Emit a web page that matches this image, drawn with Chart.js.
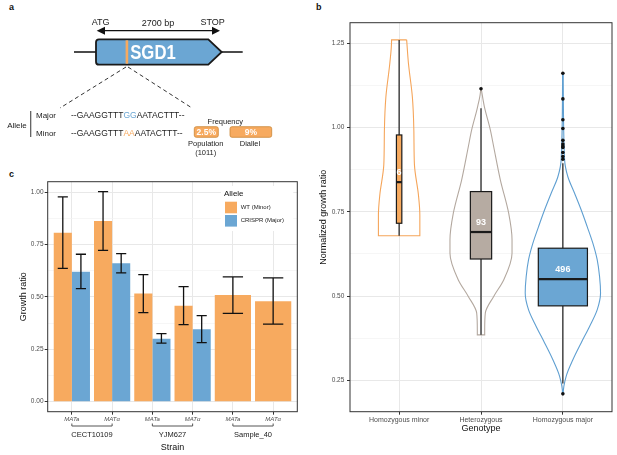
<!DOCTYPE html>
<html>
<head>
<meta charset="utf-8">
<script src="https://cdn.jsdelivr.net/npm/chart.js"></script>
<style>
  body { margin: 0; background: #fff; width: 617px; height: 455px; overflow: hidden; position: relative; font-family: 'Liberation Sans', Arial, sans-serif; }
  canvas { position: absolute; }
  .tag { position: absolute; font-weight: bold; font-size: 9px; line-height: 10px; color: #111; }
</style>
</head>
<body>
<div class="tag" style="left:9px;top:2px">a</div>
<div class="tag" style="left:316px;top:2px">b</div>
<div class="tag" style="left:9px;top:169px">c</div>
<canvas id="geneMap" width="305" height="165" style="left:0;top:0"></canvas>
<canvas id="growthBars" width="305" height="290" style="left:0;top:165px"></canvas>
<canvas id="genoViolin" width="307" height="455" style="left:310px;top:0"></canvas>
<script>
// ---- panel a: gene + alleles
var geneName = 'SGD1';
var geneLength = '2700 bp';
var freqNames = ['Population', 'Diallel'];
var freqValues = ['2.5%', '9%'];

// ---- panel c: growth ratio per strain / mating type
var mating = ['MATa', 'MATα', 'MATa', 'MATα', 'MATa', 'MATα'];
var barStrain = ['CECT10109', 'CECT10109', 'YJM627', 'YJM627', 'Sample_40', 'Sample_40'];
var alleles = ['WT (Minor)', 'CRISPR (Major)'];
var wtRatio = [0.807, 0.863, 0.516, 0.458, 0.510, 0.479];
var wtLow = [0.637, 0.723, 0.425, 0.368, 0.422, 0.370];
var wtHigh = [0.978, 1.003, 0.607, 0.549, 0.596, 0.591];
var crisprRatio = [0.621, 0.661, 0.301, 0.346, null, null];
var crisprLow = [0.540, 0.615, 0.280, 0.282, null, null];
var crisprHigh = [0.704, 0.707, 0.325, 0.411, null, null];
var ratioTicks = [0, 0.25, 0.5, 0.75, 1];

// ---- panel b: normalized growth ratio per genotype
var genotypes = ['Homozygous minor', 'Heterozygous', 'Homozygous major'];
var counts = [6, 93, 496];
var q1 = [0.716, 0.610, 0.471];
var median = [0.838, 0.690, 0.550];
var q3 = [0.978, 0.810, 0.642];
var whiskerLow = [0.679, 0.385, 0.241];
var whiskerHigh = [1.260, 1.057, 0.894];
var hetOutliers = [1.115];
var majorOutliers = [1.161, 1.085, 1.023, 0.997, 0.962, 0.951, 0.945, 0.941, 0.926, 0.914, 0.906, 0.210];
var normTicks = [0.25, 0.5, 0.75, 1, 1.25];
// violin outlines: y level and half width (in category units)
var minorY = [1.26, 1.19, 1.09, 0.99, 0.89, 0.80, 0.74, 0.679];
var minorW = [0.092, 0.114, 0.162, 0.180, 0.187, 0.236, 0.253, 0.253];
var hetY = [1.112, 1.062, 0.993, 0.943, 0.845, 0.746, 0.667, 0.627, 0.548, 0.499, 0.450, 0.400, 0.385];
var hetW = [0.005, 0.041, 0.114, 0.155, 0.236, 0.338, 0.379, 0.379, 0.277, 0.155, 0.053, 0.045, 0.045];
var majorY = [1.161, 0.904, 0.854, 0.805, 0.756, 0.706, 0.657, 0.608, 0.558, 0.509, 0.459, 0.410, 0.361, 0.311, 0.262, 0.210];
var majorW = [0.004, 0.021, 0.061, 0.143, 0.223, 0.297, 0.366, 0.419, 0.448, 0.460, 0.419, 0.326, 0.223, 0.122, 0.040, 0.004];

var FONT = "'Liberation Sans', Arial, sans-serif";
var ORANGE = '#F7AA5F';
var BLUE = '#6BA6D3';
var TAUPE = '#B6ABA2';
var GRID = '#E8E8E8';
var GRID_MINOR = '#F2F2F2';

function withMinor(major) {
  var out = [];
  major.forEach(function (v, i) {
    if (i) out.push((major[i - 1] + v) / 2);
    out.push(v);
  });
  return out;
}

//////////////////////////////// panel a
(function () {
  var g = document.getElementById('geneMap').getContext('2d');
  g.textAlign = 'center';
  g.textBaseline = 'middle';
  g.fillStyle = '#1a1a1a';
  g.font = '9px ' + FONT;
  g.fillText('ATG', 100.7, 22.7);
  g.fillText(geneLength, 158, 24);
  g.fillText('STOP', 212.7, 22.7);

  g.strokeStyle = '#111';
  g.lineWidth = 1.2;
  g.beginPath(); g.moveTo(103, 30.7); g.lineTo(214, 30.7); g.stroke();
  g.fillStyle = '#111';
  g.beginPath(); g.moveTo(96.7, 30.7); g.lineTo(105, 26.7); g.lineTo(105, 34.7); g.closePath(); g.fill();
  g.beginPath(); g.moveTo(220, 30.7); g.lineTo(212, 26.7); g.lineTo(212, 34.7); g.closePath(); g.fill();

  g.lineWidth = 1.5;
  g.beginPath(); g.moveTo(74, 52); g.lineTo(96, 52); g.moveTo(221.7, 52); g.lineTo(242.7, 52); g.stroke();

  g.beginPath();
  g.moveTo(99, 39.3); g.lineTo(208.3, 39.3); g.lineTo(221.7, 52); g.lineTo(208.3, 64.7); g.lineTo(99, 64.7);
  g.arcTo(96, 64.7, 96, 61.7, 3); g.lineTo(96, 42.3); g.arcTo(96, 39.3, 99, 39.3, 3);
  g.closePath();
  g.fillStyle = BLUE; g.fill();
  g.lineWidth = 1.8; g.strokeStyle = '#1a1a1a'; g.stroke();

  g.fillStyle = ORANGE;
  g.fillRect(125.6, 40.3, 2.6, 23.4);

  g.save();
  g.translate(153, 53);
  g.scale(0.93, 1.12);
  g.fillStyle = '#fff';
  g.font = 'bold 18px ' + FONT;
  g.fillText(geneName, 0, 0);
  g.restore();

  g.strokeStyle = '#333';
  g.lineWidth = 1;
  g.setLineDash([4, 3]);
  g.beginPath(); g.moveTo(126, 67); g.lineTo(60, 108); g.moveTo(128, 67); g.lineTo(192, 108); g.stroke();
  g.setLineDash([]);

  g.fillStyle = '#222';
  g.font = '8px ' + FONT;
  g.fillText('Allele', 17, 125.7);
  g.strokeStyle = '#555'; g.lineWidth = 1.2;
  g.beginPath(); g.moveTo(30.7, 111); g.lineTo(30.7, 137); g.stroke();
  g.textAlign = 'left';
  g.fillText('Major', 36, 116);
  g.fillText('Minor', 36, 133.3);

  function seq(parts, x, y) {
    g.font = '8.5px ' + FONT;
    parts.forEach(function (p) {
      g.fillStyle = p[1];
      g.fillText(p[0], x, y);
      x += g.measureText(p[0]).width;
    });
  }
  seq([['--GAAGGTTT', '#222'], ['GG', BLUE], ['AATACTTT--', '#222']], 71, 116);
  seq([['--GAAGGTTT', '#222'], ['AA', ORANGE], ['AATACTTT--', '#222']], 71, 133.3);

  g.textAlign = 'center';
  g.fillStyle = '#222';
  g.font = '7.5px ' + FONT;
  g.fillText('Frequency', 225.3, 122.3);

  var boxes = [[194.3, 24], [230, 41.7]];
  boxes.forEach(function (b, i) {
    g.beginPath();
    g.roundRect(b[0], 126.7, b[1], 10.6, 2);
    g.fillStyle = ORANGE; g.fill();
    g.strokeStyle = '#C98535'; g.lineWidth = 0.8; g.stroke();
    g.fillStyle = '#fff';
    g.font = 'bold 8.5px ' + FONT;
    g.fillText(freqValues[i], b[0] + b[1] / 2, 132.3);
  });
  g.fillStyle = '#222';
  g.font = '7.5px ' + FONT;
  g.fillText(freqNames[0], 205.7, 144);
  g.fillText('(1011)', 205.7, 153.3);
  g.fillText(freqNames[1], 250, 144);
})();

//////////////////////////////// shared plugins
var frame = {
  id: 'frame',
  afterDraw: function (chart) {
    var a = chart.chartArea, ctx = chart.ctx;
    ctx.save();
    ctx.strokeStyle = '#333';
    ctx.lineWidth = 1;
    ctx.strokeRect(a.left, a.top, a.right - a.left, a.bottom - a.top);
    ctx.restore();
  }
};

function yScaleOpts(major, min, max, width, titleText, titlePad, labelPad, fontSize) {
  return {
    min: min, max: max,
    afterBuildTicks: function (s) { s.ticks = withMinor(major).map(function (v) { return { value: v }; }); },
    afterFit: function (s) { s.width = width; },
    border: { display: false },
    grid: {
      color: function (c) { return major.includes(c.tick.value) ? GRID : GRID_MINOR; },
      lineWidth: function (c) { return major.includes(c.tick.value) ? 1 : 0.7; },
      tickLength: 3,
      tickColor: function (c) { return major.includes(c.tick.value) ? '#333' : 'rgba(0,0,0,0)'; }
    },
    ticks: {
      padding: labelPad, color: '#4d4d4d', font: { family: FONT, size: fontSize },
      callback: function (v) { return major.includes(v) ? v.toFixed(2) : ''; }
    },
    title: { display: true, text: titleText, color: '#111', font: { family: FONT, size: 9 }, padding: { top: titlePad, bottom: 0 } }
  };
}

//////////////////////////////// panel c
var errorSets = [[wtLow, wtHigh], [crisprLow, crisprHigh]];

var errorBars = {
  id: 'errorBars',
  afterDatasetsDraw: function (chart) {
    var ctx = chart.ctx, y = chart.scales.y;
    ctx.save();
    ctx.strokeStyle = '#111';
    ctx.lineWidth = 1.3;
    errorSets.forEach(function (set, d) {
      var meta = chart.getDatasetMeta(d);
      set[0].forEach(function (lo, i) {
        if (lo === null) return;
        var el = meta.data[i];
        var cap = el.width * 0.28;
        var y1 = y.getPixelForValue(lo), y2 = y.getPixelForValue(set[1][i]);
        ctx.beginPath();
        ctx.moveTo(el.x, y1); ctx.lineTo(el.x, y2);
        ctx.moveTo(el.x - cap, y1); ctx.lineTo(el.x + cap, y1);
        ctx.moveTo(el.x - cap, y2); ctx.lineTo(el.x + cap, y2);
        ctx.stroke();
      });
    });
    ctx.restore();
  }
};

var insideLegend = {
  id: 'insideLegend',
  afterDatasetsDraw: function (chart) {
    var ctx = chart.ctx, a = chart.chartArea;
    ctx.save();
    ctx.fillStyle = '#fff';
    ctx.fillRect(a.right - 76.3, a.top + 4.3, 72.3, 45);
    ctx.textAlign = 'left';
    ctx.textBaseline = 'middle';
    ctx.fillStyle = '#111';
    ctx.font = '8px ' + FONT;
    ctx.fillText('Allele', a.right - 73.3, a.top + 12.3);
    chart.data.datasets.forEach(function (ds, i) {
      var ky = a.top + 20 + i * 13.3;
      ctx.fillStyle = ds.backgroundColor;
      ctx.fillRect(a.right - 72.3, ky, 12, 11.6);
      ctx.fillStyle = '#1a1a1a';
      ctx.font = '6px ' + FONT;
      ctx.fillText(ds.label, a.right - 56.6, ky + 5.8);
    });
    ctx.restore();
  }
};

var strainBrackets = {
  id: 'strainBrackets',
  afterDraw: function (chart) {
    var ctx = chart.ctx, a = chart.chartArea, x = chart.scales.x;
    var names = barStrain.filter(function (s, i) { return barStrain.indexOf(s) === i; });
    ctx.save();
    names.forEach(function (name) {
      var first = barStrain.indexOf(name) + 1, last = barStrain.lastIndexOf(name) + 1;
      var x1 = x.getPixelForValue(first), x2 = x.getPixelForValue(last);
      var yb = a.bottom + 14.3;
      ctx.strokeStyle = '#555';
      ctx.lineWidth = 1;
      ctx.beginPath();
      ctx.moveTo(x1, yb - 2.5); ctx.lineTo(x1, yb); ctx.lineTo(x2, yb); ctx.lineTo(x2, yb - 2.5);
      ctx.stroke();
      ctx.fillStyle = '#1a1a1a';
      ctx.font = '7.5px ' + FONT;
      ctx.textAlign = 'center';
      ctx.textBaseline = 'middle';
      ctx.fillText(name, (x1 + x2) / 2, a.bottom + 23.3);
    });
    ctx.restore();
  }
};

new Chart(document.getElementById('growthBars'), {
  type: 'bar',
  data: {
    datasets: [
      { label: alleles[0], data: wtRatio.map(function (v, i) { return { x: i + 1, y: v }; }), backgroundColor: ORANGE },
      { label: alleles[1], data: crisprRatio.map(function (v, i) { return { x: i + 1, y: v }; }), backgroundColor: BLUE }
    ]
  },
  options: {
    responsive: false,
    animation: false,
    layout: { padding: { left: 0, top: 16.7, right: 7.7, bottom: 0 } },
    datasets: { bar: { categoryPercentage: 0.9, barPercentage: 1, skipNull: true, borderWidth: 0 } },
    plugins: { legend: { display: false }, tooltip: { enabled: false } },
    scales: {
      x: {
        type: 'linear', min: 0.4, max: 6.6, offset: false,
        afterBuildTicks: function (s) { s.ticks = mating.map(function (m, i) { return { value: i + 1 }; }); },
        afterFit: function (s) { s.height = 43.3; },
        border: { display: false },
        grid: { offset: false, color: GRID, lineWidth: 1, tickLength: 3, tickColor: '#333' },
        ticks: {
          autoSkip: false, maxRotation: 0, minRotation: 0, padding: 1, color: '#4d4d4d',
          font: { family: FONT, size: 6, style: 'italic' },
          callback: function (v) { return mating[v - 1]; }
        },
        title: { display: true, text: 'Strain', color: '#111', font: { family: FONT, size: 9 }, padding: { top: 0, bottom: 1.6 } }
      },
      y: yScaleOpts(ratioTicks, -0.048, 1.0506, 47.7, 'Growth ratio', 17.9, 1.2, 6.5)
    }
  },
  plugins: [errorBars, insideLegend, strainBrackets, frame]
});

//////////////////////////////// panel b
function violinPath(center, ys, ws) {
  var right = ys.map(function (y, i) { return { x: center + ws[i], y: y }; });
  var left = ys.map(function (y, i) { return { x: center - ws[i], y: y }; }).reverse();
  return right.concat(left, [right[0]]);
}

var boxFill = [ORANGE, TAUPE, BLUE];
var violinStroke = ['#F5A55A', '#B3A89F', '#5F9FD1'];
var maxCount = Math.max.apply(null, counts);

var boxPlots = {
  id: 'boxPlots',
  beforeDatasetDraw: function (chart, args) {
    if (args.index !== 0) return;
    var ctx = chart.ctx, x = chart.scales.x, y = chart.scales.y;
    ctx.save();
    genotypes.forEach(function (name, i) {
      var cx = x.getPixelForValue(i + 1);
      var half = x.getPixelForValue(i + 1 + 0.3 * Math.sqrt(counts[i] / maxCount)) - cx;
      var top = y.getPixelForValue(q3[i]), bot = y.getPixelForValue(q1[i]), mid = y.getPixelForValue(median[i]);
      ctx.strokeStyle = '#1a1a1a';
      ctx.lineWidth = 1.2;
      ctx.beginPath();
      ctx.moveTo(cx, y.getPixelForValue(whiskerHigh[i])); ctx.lineTo(cx, top);
      ctx.moveTo(cx, bot); ctx.lineTo(cx, y.getPixelForValue(whiskerLow[i]));
      ctx.stroke();
      ctx.fillStyle = boxFill[i];
      ctx.fillRect(cx - half, top, half * 2, bot - top);
      ctx.strokeRect(cx - half, top, half * 2, bot - top);
      ctx.lineWidth = 2.2;
      ctx.beginPath(); ctx.moveTo(cx - half, mid); ctx.lineTo(cx + half, mid); ctx.stroke();
      ctx.fillStyle = '#fff';
      ctx.font = 'bold 9px ' + FONT;
      ctx.textAlign = 'center';
      ctx.textBaseline = 'middle';
      ctx.fillText(String(counts[i]), cx, mid - 10);
    });
    ctx.restore();
  }
};

var outlierPoints = hetOutliers.map(function (v) { return { x: 2, y: v }; })
  .concat(majorOutliers.map(function (v) { return { x: 3, y: v }; }));

var violins = [[minorY, minorW], [hetY, hetW], [majorY, majorW]].map(function (p, i) {
  return {
    type: 'line',
    indexAxis: 'y',
    data: violinPath(i + 1, p[0], p[1]),
    fill: false,
    cubicInterpolationMode: 'monotone',
    borderColor: violinStroke[i], borderWidth: 1.1, pointRadius: 0
  };
});

new Chart(document.getElementById('genoViolin'), {
  type: 'scatter',
  data: {
    datasets: [{ data: outlierPoints, pointRadius: 1.8, pointBackgroundColor: '#111', pointBorderWidth: 0, showLine: false }].concat(violins)
  },
  options: {
    responsive: false,
    animation: false,
    layout: { padding: { left: 0, top: 22.7, right: 5, bottom: 0 } },
    plugins: { legend: { display: false }, tooltip: { enabled: false } },
    scales: {
      x: {
        type: 'linear', min: 0.4, max: 3.6,
        afterBuildTicks: function (s) { s.ticks = genotypes.map(function (g, i) { return { value: i + 1 }; }); },
        afterFit: function (s) { s.height = 43.3; },
        border: { display: false },
        grid: { color: GRID, lineWidth: 1, tickLength: 3, tickColor: '#333' },
        ticks: {
          autoSkip: false, maxRotation: 0, minRotation: 0, padding: 1, color: '#4d4d4d',
          font: { family: FONT, size: 7 },
          callback: function (v) { return genotypes[v - 1]; }
        },
        title: { display: true, text: 'Genotype', color: '#111', font: { family: FONT, size: 9 }, padding: { top: 0, bottom: 20.6 } }
      },
      y: yScaleOpts(normTicks, 0.157, 1.311, 40, 'Normalized growth ratio', 7.9, 2.7, 6.5)
    }
  },
  plugins: [boxPlots, frame]
});
</script>
</body>
</html>
